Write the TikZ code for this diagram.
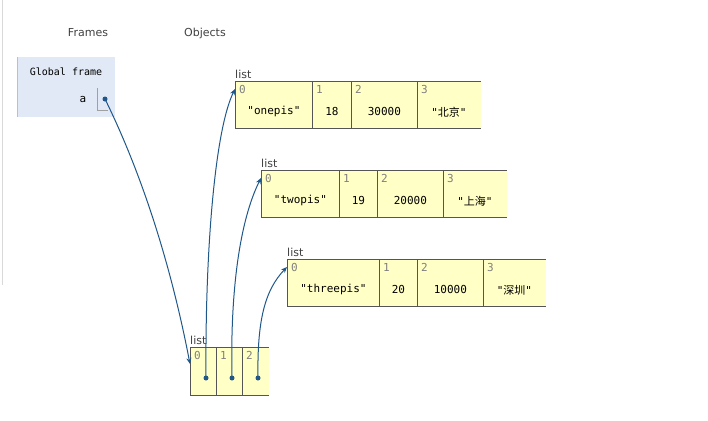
\documentclass[tikz,border=0pt]{standalone}
\usepackage{fontspec}
\usetikzlibrary{arrows.meta}
\setmainfont{DejaVu Sans}
\newfontfamily\monof{DejaVu Sans Mono}
\newfontfamily\cjk{Noto Sans CJK SC}
\definecolor{ptr}{HTML}{1F5788}
\definecolor{cellf}{HTML}{FFFFC6}
\definecolor{cellb}{HTML}{555555}
\definecolor{framef}{HTML}{E2E9F6}
\definecolor{gr}{HTML}{A0A0A0}
\begin{document}
\begin{tikzpicture}[x=1pt,y=-1pt,
  cell/.style={draw=cellb,fill=cellf,line width=0.8pt,inner sep=0,anchor=north west},
  idx/.style={anchor=north west,inner sep=0,font=\monof\fontsize{11}{11}\selectfont,text=gray},
  val/.style={inner sep=0,font=\monof\fontsize{11}{11}\selectfont},
  lbl/.style={anchor=south west,inner sep=0,font=\fontsize{11}{11}\selectfont,text=darkgray},
  hdr/.style={inner sep=0,font=\fontsize{11}{11}\selectfont,text=darkgray},
  arr/.style={draw=ptr,line width=1pt,-{Stealth[length=6pt,width=5pt]}},
  dot/.style={circle,fill=ptr,inner sep=0,minimum size=5pt}]
\useasboundingbox (0,0) rectangle (708,420);
\draw[gray!30] (2,0) -- (2,285);
\node[hdr] (hf) at (88,33) {Frames};
\node[hdr] (ho) at (205,33) {Objects};
% global frame
\fill[framef] (17,57) rectangle (115,117);
\draw[gray!50,line width=1pt] (17,57) -- (17,117);
\node[val,font=\monof\fontsize{10}{10}\selectfont] (gf) at (66,72) {Global frame};
\node[val] (va) at (83,99) {a};
\draw[gr,line width=0.8pt] (97,88) -- (97,110) -- (108,110);
\node[dot] (da) at (105,99) {};
% lists
\foreach \nm/\x/\y/\ws in {L1/235/81/{77,39,66,63}, L2/261/170/{78,38,66,63}, L3/287/259/{92,38,66,62}}{
  \node[lbl] (\nm-l) at (\x,\y-2) {list};
  \def\cx{\x}
  \foreach \w [count=\i from 0] in \ws {
    \pgfmathsetmacro\cxx{\cx}
    \node[cell,minimum width=\w pt,minimum height=47pt] (\nm-c\i) at (\cxx,\y) {};
    \node[idx] (\nm-i\i) at ([xshift=4pt,yshift=-4pt]\nm-c\i.north west) {\i};
    \pgfmathsetmacro\ncx{\cx+\w}
    \xdef\cx{\ncx}
  }
}
% values
\foreach \nm/\a/\b/\c/\d in {L1/"onepis"/18/30000/"{\cjk 北京}",L2/"twopis"/19/20000/"{\cjk 上海}",L3/"threepis"/20/10000/"{\cjk 深圳}"}{
  \node[val] (\nm-v0) at ([yshift=-7pt]\nm-c0.center) {\a};
  \node[val] (\nm-v1) at ([yshift=-7pt]\nm-c1.center) {\b};
  \node[val] (\nm-v2) at ([yshift=-7pt]\nm-c2.center) {\c};
  \node[val] (\nm-v3) at ([yshift=-7pt]\nm-c3.center) {\d};
}
\fill[cellf] (479.5,81.5) rectangle (481,127.5);
\fill[cellf] (505.5,170.5) rectangle (507,216.5);
\fill[cellf] (544.5,259.5) rectangle (546,305.5);
% bottom list
\node[lbl] (B-l) at (190,345) {list};
\foreach \i in {0,1,2}{
  \node[cell,minimum width=26pt,minimum height=48pt] (B-c\i) at (190+26*\i,347) {};
  \node[idx] (B-i\i) at ([xshift=4pt,yshift=-4pt]B-c\i.north west) {\i};
  \node[dot] (B-d\i) at (206+26*\i,378) {};
}
\fill[cellf] (267.5,347.5) rectangle (269,394.5);
% arrows
\draw[arr] (da.center) .. controls (140,170) and (170,260) .. ([yshift=-17pt]B-c0.north west);
\draw[arr] (B-d0.center) .. controls (205,250) and (215,130) .. ([yshift=-8pt]L1-c0.north west);
\draw[arr] (B-d1.center) .. controls (230,290) and (240,220) .. ([yshift=-8pt]L2-c0.north west);
\draw[arr] (B-d2.center) .. controls (257,320) and (265,290) .. ([yshift=-8pt]L3-c0.north west);
\end{tikzpicture}
\end{document}
